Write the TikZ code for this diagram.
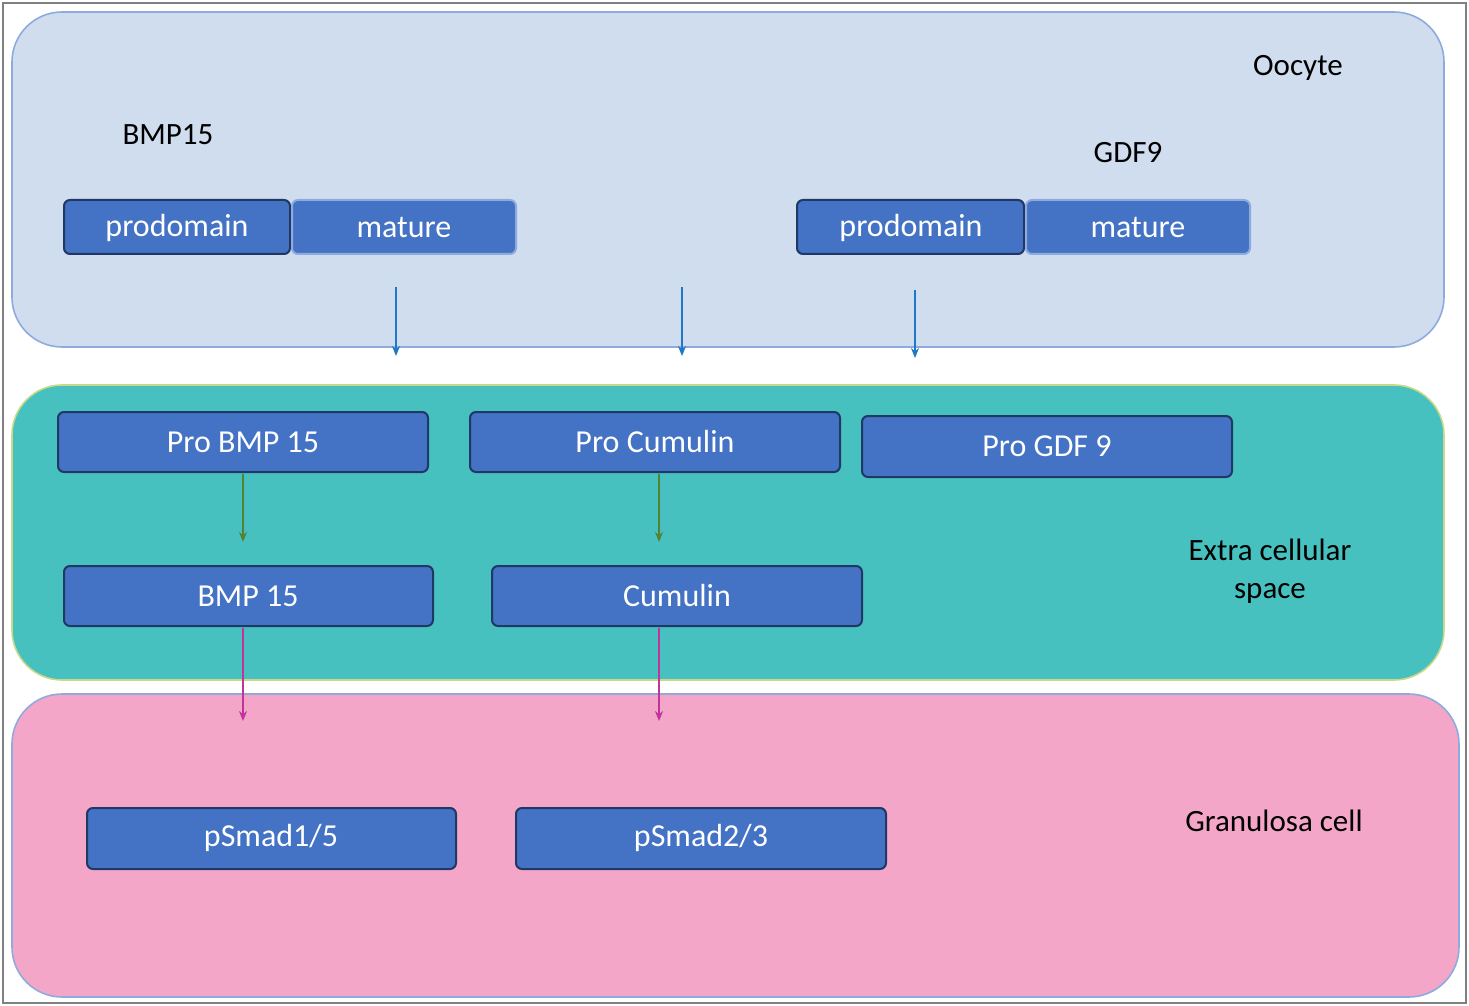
\documentclass[tikz,border=0pt]{standalone}
\usepackage{fontspec}
\setmainfont{Carlito}
\usetikzlibrary{arrows.meta}
\definecolor{boxb}{HTML}{4472C4}
\definecolor{boxd}{HTML}{1F3864}
\definecolor{ooc}{HTML}{CFDDEF}
\definecolor{oocb}{HTML}{8FAADC}
\definecolor{ext}{HTML}{47C1BF}
\definecolor{extb}{HTML}{C9D98A}
\definecolor{gra}{HTML}{F4A6C8}
\definecolor{arb}{HTML}{1F77C8}
\definecolor{arg}{HTML}{548235}
\definecolor{arm}{HTML}{C0349B}
\begin{document}
\begin{tikzpicture}[x=0.5pt,y=-0.5pt,
  region/.style={rounded corners=25pt,line width=0.8pt},
  box/.style={draw=boxd,fill=boxb,rounded corners=3pt,line width=1pt},
  btxt/.style={text=white,font=\fontsize{16}{18}\selectfont},
  lbl/.style={font=\fontsize{15.5}{19}\selectfont,align=center},
  arr/.style={-{Stealth[length=5pt,width=4pt]},line width=1.3pt}]
\useasboundingbox (0,0) rectangle (1469,1006);
\draw[gray,line width=0.6pt] (3,3) rectangle (1466,1003);
\draw[region,fill=ooc,draw=oocb] (12,12) rectangle (1444,347);
\draw[region,fill=ext,draw=extb] (12,385) rectangle (1444,680);
\draw[region,fill=gra,draw=oocb] (12,694) rectangle (1459,997);
\node[lbl] (oocyte) at (1298,68) {Oocyte};
\node[lbl] (bmp15l) at (168,135) {BMP15};
\node[lbl] (gdf9l) at (1128,153) {GDF9};
\node[lbl] (ext) at (1270,571) {Extra cellular\\space};
\node[lbl] (gran) at (1274,821) {Granulosa cell};
\draw[box] (64,200) rectangle (290,254); \node[btxt] (pd1) at (177,228) {prodomain};
\draw[box,draw=oocb] (292,200) rectangle (516,254); \node[btxt] (m1) at (404,228) {mature};
\draw[box] (797,200) rectangle (1024,254); \node[btxt] (pd2) at (911,228) {prodomain};
\draw[box,draw=oocb] (1026,200) rectangle (1250,254); \node[btxt] (m2) at (1138,228) {mature};
\draw[box] (58,412) rectangle (428,472); \node[btxt] (pbmp) at (243,442) {Pro BMP 15};
\draw[box] (470,412) rectangle (840,472); \node[btxt] (pcum) at (655,442) {Pro Cumulin};
\draw[box] (862,416) rectangle (1232,477); \node[btxt] (pgdf) at (1047,446) {Pro GDF 9};
\draw[box] (64,566) rectangle (433,626); \node[btxt] (bmp) at (248,596) {BMP 15};
\draw[box] (492,566) rectangle (862,626); \node[btxt] (cum) at (677,596) {Cumulin};
\draw[box] (87,808) rectangle (456,869); \node[btxt] (s15) at (271,838) {pSmad1/5};
\draw[box] (516,808) rectangle (886,869); \node[btxt] (s23) at (701,838) {pSmad2/3};
\coordinate (a1s) at (396,287); \coordinate (a1e) at (396,356);
\coordinate (a2s) at (682,287); \coordinate (a2e) at (682,356);
\coordinate (a3s) at (915,290); \coordinate (a3e) at (915,358);
\coordinate (g1s) at (243,474); \coordinate (g1e) at (243,542);
\coordinate (g2s) at (659,474); \coordinate (g2e) at (659,542);
\coordinate (m1s) at (243,628); \coordinate (m1e) at (243,721);
\coordinate (m2s) at (659,628); \coordinate (m2e) at (659,721);
\draw[arr,arb] (a1s) -- (a1e);
\draw[arr,arb] (a2s) -- (a2e);
\draw[arr,arb] (a3s) -- (a3e);
\draw[arr,arg] (g1s) -- (g1e);
\draw[arr,arg] (g2s) -- (g2e);
\draw[arr,arm] (m1s) -- (m1e);
\draw[arr,arm] (m2s) -- (m2e);
\end{tikzpicture}
\end{document}
